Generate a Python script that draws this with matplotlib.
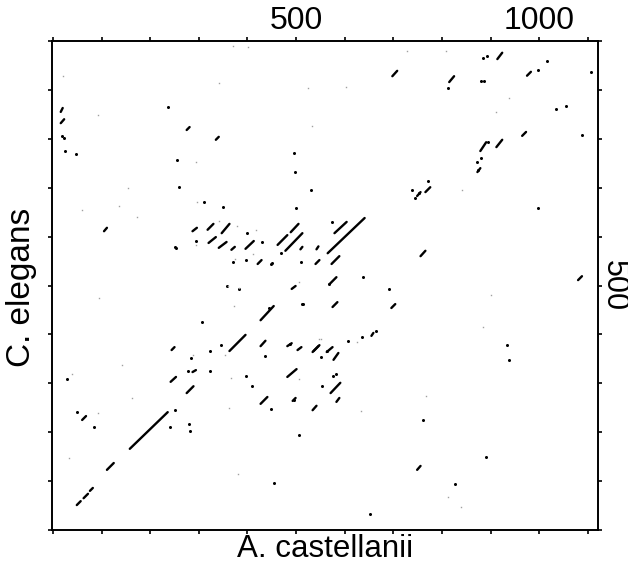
import matplotlib
matplotlib.use("Agg")
import matplotlib.pyplot as plt
import numpy as np

plt.rcParams['font.family'] = ['Liberation Sans', 'DejaVu Sans']

# dot-plot matches: short diagonal runs (x1, y1, x2, y2) in residue numbers
seg_x1 = [16, 275, 335, 698, 815, 914, 965, 879, 912, 766, 749, 873, 105, 427, 491,
          287, 318, 347, 320, 341, 367, 396, 421, 489, 462, 478, 540, 573, 579, 565,
          569, 575, 756, 696, 1080, 363, 427, 503, 536, 287, 242, 482, 275, 427, 534,
          60, 158, 111, 49, 63, 76, 482, 534, 563, 577, 571, 493, 583, 655, 749,
          244, 509, 542, 16, 975]
seg_y1 = [832, 818, 798, 928, 916, 963, 806, 775, 783, 691, 683, 732, 611, 429, 493,
          611, 614, 607, 587, 577, 573, 575, 544, 609, 583, 571, 544, 544, 607, 566,
          503, 456, 560, 454, 511, 366, 376, 368, 366, 323, 303, 313, 280, 258, 245,
          225, 166, 123, 51, 65, 80, 376, 364, 364, 348, 280, 264, 262, 397, 123,
          368, 574, 574, 855, 929]
seg_x2 = [23, 281, 341, 708, 825, 924, 973, 891, 924, 776, 756, 879, 111, 454, 499,
          296, 330, 363, 335, 357, 374, 413, 429, 505, 482, 513, 548, 589, 604, 641,
          583, 585, 766, 704, 1088, 396, 437, 511, 546, 294, 253, 501, 289, 441, 542,
          68, 236, 125, 57, 72, 82, 491, 548, 575, 587, 591, 499, 589, 659, 756,
          250, 513, 546, 20, 983]
seg_y2 = [840, 824, 804, 939, 928, 976, 814, 793, 798, 701, 691, 740, 618, 458, 499,
          618, 626, 626, 599, 589, 579, 591, 552, 626, 603, 607, 552, 560, 630, 638,
          517, 466, 571, 462, 519, 399, 387, 374, 376, 327, 313, 329, 294, 272, 254,
          233, 241, 137, 59, 74, 86, 382, 378, 374, 362, 301, 270, 270, 403, 131,
          374, 579, 580, 863, 937]

# isolated dark dots
dot_x = [18, 23, 236, 25, 47, 255, 495, 497, 530, 499, 259, 310, 349, 253, 306,
         515, 567, 294, 400, 429, 250, 370, 398, 448, 357, 382, 470, 573, 450, 511,
         638, 513, 445, 692, 998, 772, 739, 745, 753, 873, 881, 875, 885, 893, 881,
         887, 813, 998, 1016, 1107, 1035, 1055, 1088, 895, 345, 322, 437, 487, 563, 283,
         277, 322, 29, 398, 409, 554, 448, 495, 84, 240, 279, 281, 505, 454, 934,
         938, 762, 891, 827, 653, 606, 636, 665, 552, 583, 575, 252, 49]
dot_y = [806, 802, 865, 775, 769, 757, 771, 732, 695, 658, 701, 671, 661, 577, 425,
         462, 503, 591, 607, 589, 579, 548, 552, 544, 499, 493, 566, 630, 546, 548,
         517, 462, 454, 493, 658, 714, 695, 679, 689, 753, 761, 736, 965, 969, 918,
         918, 904, 941, 959, 937, 861, 867, 808, 793, 378, 366, 356, 380, 366, 352,
         325, 325, 309, 315, 294, 294, 247, 266, 211, 211, 217, 202, 194, 96, 378,
         348, 225, 149, 94, 33, 386, 395, 407, 354, 319, 315, 245, 241]

# faint grey specks
faint_x = [21, 92, 341, 524, 532, 370, 402, 729, 809, 912, 602, 938, 294, 154, 296,
           60, 136, 172, 94, 359, 382, 372, 341, 378, 417, 294, 374, 411, 842, 901,
           885, 552, 353, 367, 92, 162, 142, 39, 33, 380, 507, 507, 634, 768, 813,
           840, 287, 363, 626, 548]
faint_y = [928, 849, 914, 904, 826, 990, 988, 980, 980, 855, 906, 883, 753, 699, 671,
           654, 663, 640, 474, 499, 495, 458, 632, 622, 614, 583, 554, 564, 695, 481,
           415, 391, 358, 311, 239, 270, 337, 319, 147, 115, 507, 309, 243, 274, 67,
           47, 358, 249, 384, 391]

fig = plt.figure(figsize=(6.28, 5.64), dpi=100)
ax = fig.add_axes([52 / 628, 1 - 530 / 564, 546 / 628, 489 / 564])

for x1, y1, x2, y2 in zip(seg_x1, seg_y1, seg_x2, seg_y2):
    ax.plot([x1, x2], [y1, y2], color='black', lw=1.7, solid_capstyle='round')
ax.plot(dot_x, dot_y, 'o', color='black', ms=2.2, mew=0)
ax.plot(faint_x, faint_y, 's', color='#a0a0a0', ms=1.0, mew=0)

ax.set_xlim(-2, 1121)
ax.set_ylim(0, 1000)

xt = np.arange(0, 1101, 100)
yt = np.arange(0, 1001, 100)
ax.set_xticks(xt)
ax.set_xticklabels(['500' if v == 500 else '1000' if v == 1000 else '' for v in xt])
ax.set_yticks(yt)
ax.set_yticklabels(['500' if v == 500 else '' for v in yt], rotation=270, va='center')

ax.tick_params(axis='x', top=True, bottom=True, labeltop=True, labelbottom=False,
               direction='out', length=3, width=1.2, labelsize=23, pad=0.5)
ax.tick_params(axis='y', left=True, right=True, labelleft=False, labelright=True,
               direction='out', length=3, width=1.2, labelsize=22, pad=-2.5)
for s in ax.spines.values():
    s.set_linewidth(1.4)

fig.text(325 / 628, 1 - 549 / 564, 'A. castellanii', fontsize=22.5, ha='center', va='center')
fig.text(22 / 628, 1 - 287 / 564, 'C. elegans', fontsize=24, ha='center', va='center',
         rotation=90)

fig.savefig('out.png', dpi=100)
